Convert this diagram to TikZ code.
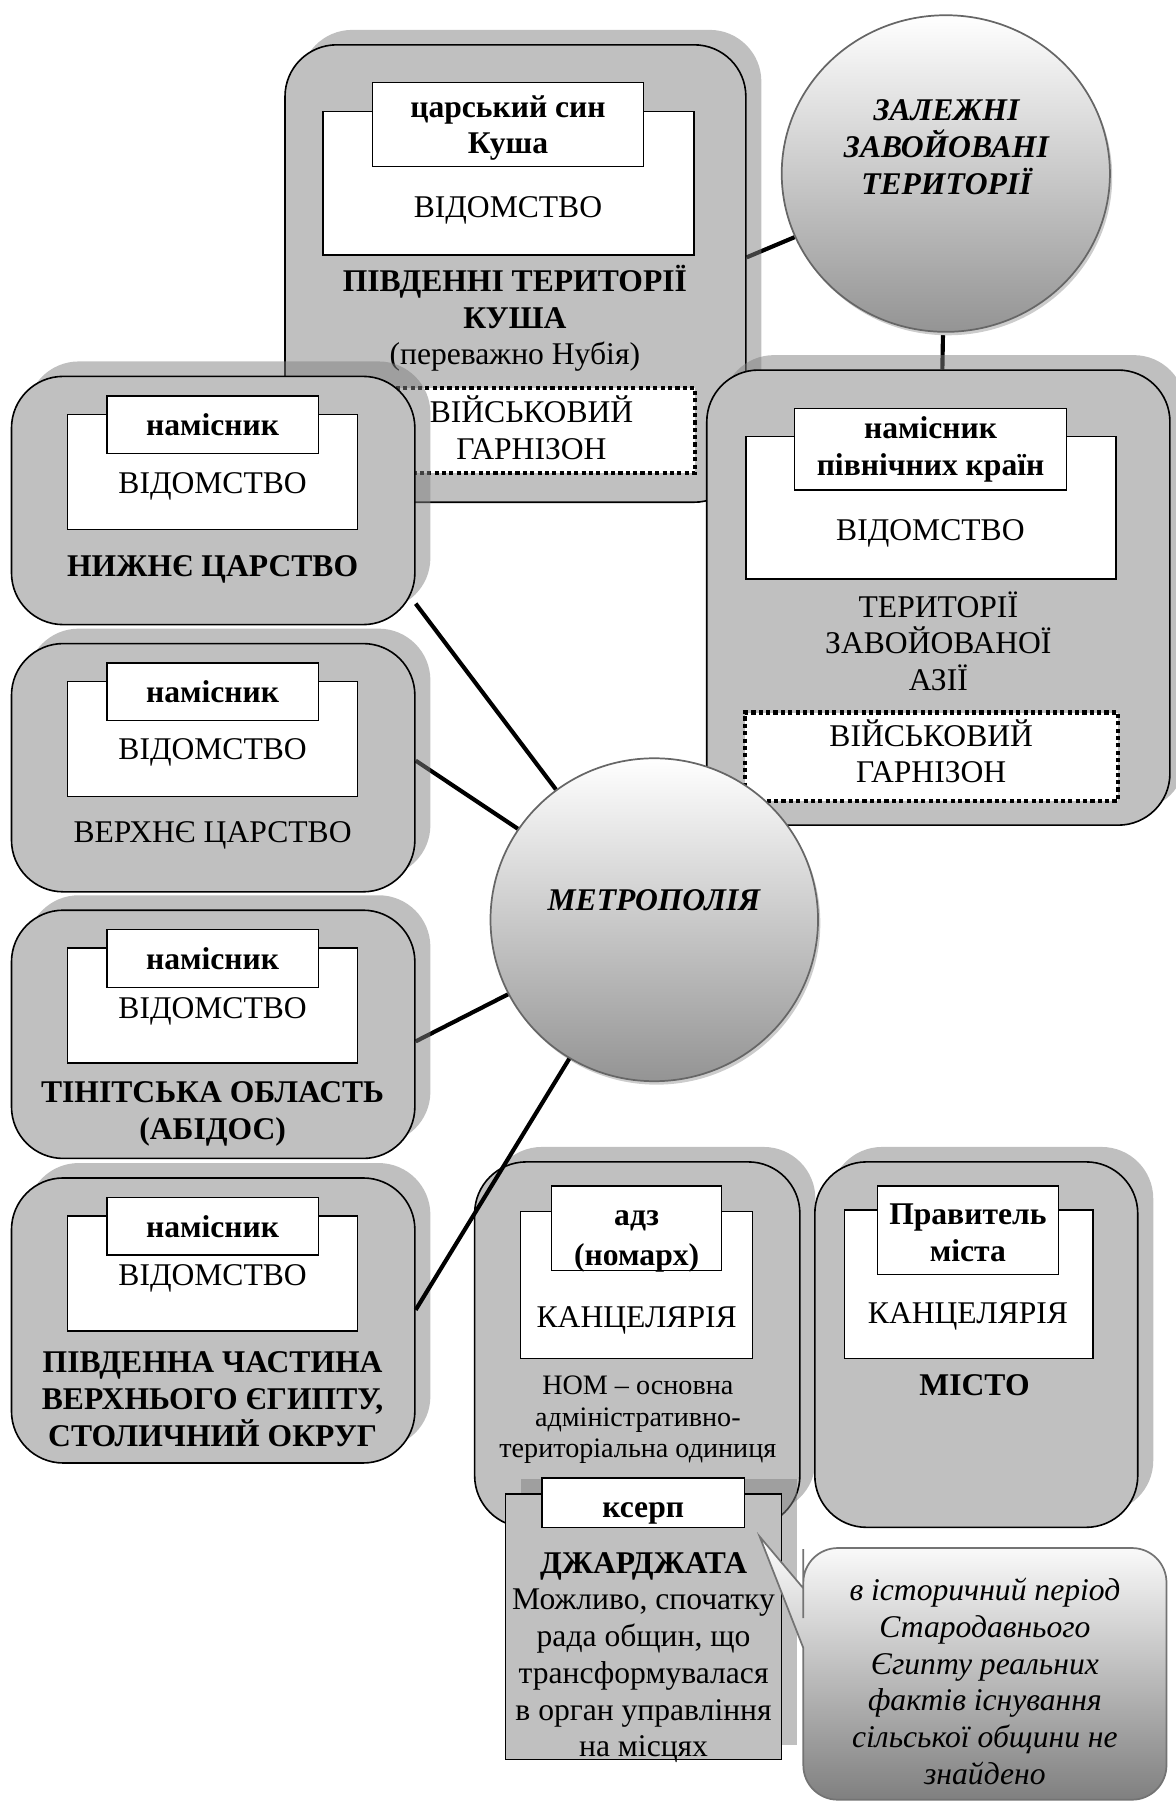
\documentclass[tikz,border=0pt]{standalone}
\usepackage{fontspec}
\setmainfont{Liberation Serif}
\usetikzlibrary{shapes.geometric,shadows}
\definecolor{boxgray}{RGB}{192,192,192}
\pgfdeclarelayer{background}
\pgfsetlayers{background,main}

\begin{document}
\begin{tikzpicture}[x=1pt,y=-1pt,
  every node/.style={inner sep=0pt,align=center,font=\fontsize{27.5}{32}\selectfont},
  boldlabel/.style={font=\fontsize{27.5}{32}\selectfont\bfseries},
  region/.style={draw,line width=1.4pt,fill=boxgray,rounded corners=45pt,
    drop shadow={shadow xshift=13.5pt,shadow yshift=13pt}},
  council/.style={region,sharp corners},
  office/.style={draw,line width=1.2pt,fill=white},
  chief/.style={draw,line width=1.2pt,fill=white,font=\fontsize{27.5}{32}\selectfont\bfseries},
  garrison/.style={draw,fill=white,line width=3.8pt,dash pattern=on 3.6pt off 2.8pt},
  hub/.style={ellipse,draw=black!60,line width=1.5pt,top color=white,middle color=black!14,bottom color=black!42,
    general shadow={fill=black!20,shadow xshift=2pt,shadow yshift=-3pt}},
  link/.style={line width=3.6pt}]
\useasboundingbox (0,0) rectangle (1023,1568);

% southern territories
\node[region,minimum width=401pt,minimum height=398pt] (kush) at (448.5,238) {};
\node[office,minimum width=323pt,minimum height=125pt] (kush-off) at (442.5,159.5) {};
\node[chief,minimum width=236pt,minimum height=73pt] (kush-chief) at (442,108.5) {};
\node[boldlabel] (kush-boss) at (442,111.5) {царський син\\Куша};
\node (kush-dept) at (442,183.5) {ВІДОМСТВО};
\node (kush-name) at (448,277) {\textbf{ПІВДЕННІ ТЕРИТОРІЇ}\\\textbf{КУША}\\(переважно Нубія)};
\node[garrison,minimum width=284pt,minimum height=74pt] (kush-gar) at (462.5,374.8) {};
\node (kush-gartext) at (462.5,372) {ВІЙСЬКОВИЙ\\ГАРНІЗОН};

% asia
\node[region,minimum width=403pt,minimum height=396pt] (asia) at (816.5,520) {};
\node[office,minimum width=322pt,minimum height=124pt] (asia-off) at (810,441.8) {};
\node[chief,minimum width=236.5pt,minimum height=71pt] (asia-chief) at (809.7,390.9) {намісник\\північних країн};
\node (asia-dept) at (809.6,464.5) {ВІДОМСТВО};
\node (asia-name) at (816.5,558) {ТЕРИТОРІЇ\\ЗАВОЙОВАНОЇ\\АЗІЇ};
\node[garrison,minimum width=324.6pt,minimum height=77pt] (asia-gar) at (810.3,658.5) {};
\node (asia-gartext) at (810.3,653.6) {ВІЙСЬКОВИЙ\\ГАРНІЗОН};

% egypt proper
\foreach \nm/\ty/\bh/\dy in {nizh/327.5/216/95.5,verkh/560/216/95,tinis/792/216/88,pivd/1025/248/87}{
  \node[region,minimum width=351pt,minimum height=\bh pt] (\nm) at (185.5,\ty+\bh/2) {};
  \node[office,minimum width=252pt,minimum height=100pt] (\nm-off) at (185,\ty+83) {};
  \node[chief,minimum width=184pt,minimum height=50pt] (\nm-chief) at (185,\ty+42) {намісник};
  \node (\nm-dept) at (185,\ty+\dy) {ВІДОМСТВО};
}
\node[boldlabel] (nizh-name) at (185,495.8) {НИЖНЄ ЦАРСТВО};
\node (verkh-name) at (185,726.5) {ВЕРХНЄ ЦАРСТВО};
\node[boldlabel] (tinis-name) at (185,969) {ТІНІТСЬКА ОБЛАСТЬ\\(АБІДОС)};
\node[boldlabel] (pivd-name) at (185,1217.5) {ПІВДЕННА ЧАСТИНА\\ВЕРХНЬОГО ЄГИПТУ,\\СТОЛИЧНИЙ ОКРУГ};

% nome and city
\node[region,minimum width=283pt,minimum height=318pt] (nom) at (554.5,1170) {};
\node[office,minimum width=202pt,minimum height=128pt] (nom-off) at (554,1118) {};
\node[chief,minimum width=148pt,minimum height=73.5pt] (nom-chief) at (554,1068.8) {};
\node[font=\fontsize{27.5}{35}\selectfont\bfseries] (nom-boss) at (554,1080) {адз\\(номарх)};
\node (nom-dept) at (554,1149) {КАНЦЕЛЯРІЯ};
\node[font=\fontsize{24.5}{27.5}\selectfont] (nom-name) at (555,1235.5) {НОМ – основна\\адміністративно-\\територіальна одиниця};

\node[region,minimum width=281pt,minimum height=318pt] (misto) at (849.5,1170) {};
\node[office,minimum width=216pt,minimum height=129pt] (misto-off) at (843,1117.5) {};
\node[chief,minimum width=157.5pt,minimum height=77pt] (misto-chief) at (842.2,1070.5) {};
\node[boldlabel] (misto-boss) at (842.2,1073) {Правитель\\міста};
\node (misto-dept) at (842.3,1145.5) {КАНЦЕЛЯРІЯ};
\node[boldlabel] (misto-name) at (848,1205) {МІСТО};

% djadjat
\node[council,minimum width=240pt,minimum height=231pt] (kserp) at (560,1415.5) {};
\node[chief,minimum width=176.5pt,minimum height=43pt,text height=25pt,text depth=0pt] (kserp-chief) at (559.7,1307.5) {ксерп};
\node (kserp-name) at (560,1442.3) {\textbf{ДЖАРДЖАТА}\\Можливо, спочатку\\рада общин, що\\трансформувалася\\в орган управління\\на місцях};

% callout
\path[draw=black!55,line width=1.5pt,top color=white,bottom color=black!50]
  (699,1450) [rounded corners=30pt] -- (699,1566) -- (1015,1566) -- (1015,1347) -- (699,1347)
  -- (699,1378) [sharp corners] -- (699,1382) -- (661,1337) -- (699,1434) -- cycle;
\node[font=\fontsize{27.5}{32}\selectfont\itshape] (note) at (857,1463) {в історичний період\\Стародавнього\\Єгипту реальних\\фактів існування\\сільської общини не\\знайдено};

% hubs
\node[hub,minimum width=285.6pt,minimum height=275.5pt] (zal) at (823,151) {};
\node[font=\fontsize{27.5}{32}\selectfont\bfseries\itshape] (zal-name) at (823.5,128) {ЗАЛЕЖНІ\\ЗАВОЙОВАНІ\\ТЕРИТОРІЇ};
\node[hub,minimum width=285pt,minimum height=281pt] (metro) at (569.3,800.3) {};
\node[font=\fontsize{27.5}{32}\selectfont\bfseries\itshape] (metro-name) at (569,783) {МЕТРОПОЛІЯ};

\begin{pgfonlayer}{background}
\draw[link] (kush.4) -- (zal);
\draw[link] (zal) -- (asia);
\draw[link] (nizh.-27.8) -- (metro);
\draw[link] (verkh.2.9) -- (metro);
\draw[link] (tinis.-2.9) -- (metro);
\end{pgfonlayer}
\draw[link] (pivd.3.6) -- (metro);
\end{tikzpicture}
\end{document}
